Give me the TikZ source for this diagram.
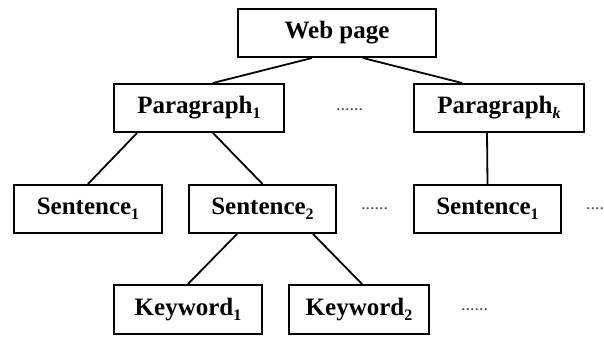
\documentclass[tikz,border=0pt]{standalone}
\usepackage{fontspec}
\setmainfont{Liberation Serif}
\usetikzlibrary{calc}
\newcommand\mysub[1]{\raisebox{-0.2em}{\fontsize{16}{16}\selectfont #1}}
\tikzset{
  box/.style={draw=black, line width=2pt, inner sep=0pt, minimum height=48pt,
    font=\fontsize{25}{29}\selectfont\bfseries},
  link/.style={draw=black, line width=1.8pt},
  dots/.style={inner sep=0pt, anchor=base west, text=black!70, font=\fontsize{18}{18}\selectfont}
}
\begin{document}
\begin{tikzpicture}[x=1pt,y=-1pt]
\useasboundingbox (0,0) rectangle (604,337);
\node[box, minimum width=198pt] (wp) at (337,33) {Web page};
\node[box, minimum width=170pt] (p1) at (199,108) {Paragraph\mysub{1}};
\node[box, minimum width=170pt] (pk) at (499,108) {Paragraph\mysub{\textit{k}}};
\node[box, minimum width=148pt] (s1) at (88,209) {Sentence\mysub{1}};
\node[box, minimum width=147pt] (s2) at (262.5,209) {Sentence\mysub{2}};
\node[box, minimum width=147pt] (s3) at (487.5,209) {Sentence\mysub{1}};
\node[box, minimum width=148pt, minimum height=49pt] (k1) at (188,309.5) {Keyword\mysub{1}};
\node[box, minimum width=140pt, minimum height=49pt] (k2) at (359,309.5) {Keyword\mysub{2}};
\node[dots] (d1) at (336,110) {......};
\node[dots] (d2) at (361,209.5) {......};
\node[dots] (d3) at (586,209.5) {....};
\node[dots] (d4) at (461,310) {......};
\draw[link] ($(wp.south)+(-25,0)$) -- ($(p1.north)+(14,0)$);
\draw[link] ($(wp.south)+(26,0)$) -- ($(pk.north)+(-37,0)$);
\draw[link] ($(p1.south)+(-62,0)$) -- (s1.north);
\draw[link] ($(p1.south)+(14,0)$) -- (s2.north);
\draw[link] ($(pk.south)+(-12,0)$) -- (s3.north);
\draw[link] ($(s2.south)+(-25.5,0)$) -- (k1.north);
\draw[link] ($(s2.south)+(50.5,0)$) -- ($(k2.north)+(3,0)$);
\end{tikzpicture}
\end{document}
